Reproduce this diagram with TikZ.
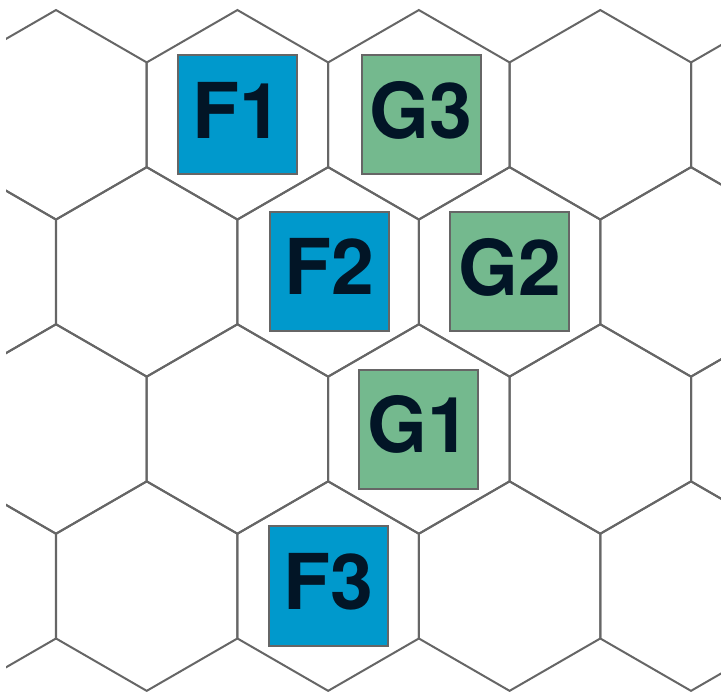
\documentclass[tikz,border=0pt]{standalone}
\usepackage{fontspec}
\setmainfont{TeX Gyre Heros}
\definecolor{hexline}{HTML}{666666}
\definecolor{fblue}{HTML}{0099CC}
\definecolor{ggreen}{HTML}{74B98E}
\definecolor{labeltext}{HTML}{021526}
\begin{document}
\begin{tikzpicture}[x=1pt,y=-1pt,
  hexstyle/.style={draw=hexline,line width=2pt,line join=miter},
  cellbox/.style={draw=hexline,line width=2pt,minimum size=119pt,inner sep=0pt,
    text depth=10pt,text=labeltext,font=\fontsize{77}{77}\selectfont\bfseries},
  fcell/.style={cellbox,fill=fblue},
  gcell/.style={cellbox,fill=ggreen}]
\useasboundingbox (0,0) rectangle (721,692);
\begin{scope}
\clip (6,0) rectangle (721,692);
\foreach \r in {0,...,3} {
  \foreach \k in {-1,...,4} {
    \pgfmathsetmacro\cx{56+181.43*\k+mod(\r,2)*90.715}
    \pgfmathsetmacro\cy{114.8+157.1*\r}
    \draw[hexstyle] (\cx,\cy) +(30:104.75) -- +(90:104.75) -- +(150:104.75)
      -- +(210:104.75) -- +(270:104.75) -- +(330:104.75) -- cycle;
  }
}
\end{scope}
\node[fcell] (F1) at (237.8,115) {F1};
\node[gcell] (G3) at (421,115) {G3};
\node[fcell] (F2) at (329.5,271.5) {F2};
\node[gcell] (G2) at (509.5,271.5) {G2};
\node[gcell] (G1) at (418.8,429.2) {G1};
\node[fcell] (F3) at (328,586) {F3};
\end{tikzpicture}
\end{document}
